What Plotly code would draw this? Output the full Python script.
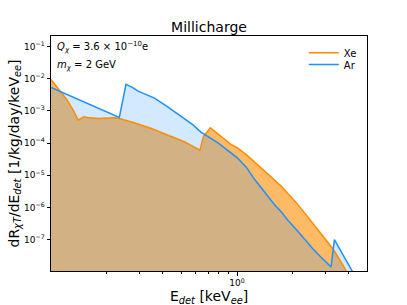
import plotly.graph_objects as go
import numpy as np

xe_x = [0.1, 0.1106, 0.122, 0.133, 0.140, 0.150, 0.157, 0.18, 0.2, 0.219, 0.233, 0.28, 0.344, 0.424, 0.521, 0.632,
        0.66, 0.719, 0.82, 0.93, 0.967, 1.0, 1.122, 1.239, 1.413, 1.585, 1.738, 1.875, 2.089, 2.291, 2.570,
        2.831, 3.090, 3.311, 3.589, 3.864, 4.266]
xe_y = [9.5e-3, 4.7e-3, 2.2e-3, 9.5e-4, 5.2e-4, 6.6e-4, 6.3e-4, 5.8e-4, 6.0e-4, 6.1e-4, 5.8e-4, 4.3e-4, 2.9e-4,
        1.8e-4, 1.1e-4, 6.0e-5, 1.6e-4, 3.0e-4, 1.6e-4, 9e-5, 8.1e-5, 7.2e-5, 4.37e-5, 2.63e-5, 1.38e-5,
        7.6e-6, 4.47e-6, 2.69e-6, 1.38e-6, 7.1e-7, 3.16e-7, 1.51e-7, 7.9e-8, 4.7e-8, 2.19e-8, 1.05e-8, 4e-9]

ar_x = [0.1, 0.233, 0.253, 0.274, 0.292, 0.317, 0.36, 0.424, 0.52, 0.58, 0.64, 0.794, 1.0, 1.122, 1.239, 1.413,
        1.585, 1.738, 1.875, 2.089, 2.291, 2.570, 2.831, 3.206, 3.34, 4.19, 4.57]
ar_y = [5.4e-3, 6.3e-4, 6.7e-3, 5.4e-3, 4.2e-3, 3.4e-3, 2.5e-3, 1.35e-3, 6e-4, 3.7e-4, 2.2e-4, 1e-4, 3.55e-5,
        1.78e-5, 7.6e-6, 2.8e-6, 1.26e-6, 7.1e-7, 4e-7, 2e-7, 1.05e-7, 5e-8, 2.8e-8, 1.4e-8, 1e-7, 1e-8, 4e-9]

y_tick_vals = [1e-1, 1e-2, 1e-3, 1e-4, 1e-5, 1e-6, 1e-7]
y_tick_text = ["10<sup>−1</sup>", "10<sup>−2</sup>", "10<sup>−3</sup>", "10<sup>−4</sup>",
               "10<sup>−5</sup>", "10<sup>−6</sup>", "10<sup>−7</sup>"]
x_tick_vals = [1]
x_tick_text = ["10<sup>0</sup>"]

ORANGE = "#FF8C00"
BLUE = "#1E90FF"
FONT = "DejaVu Sans"

fig = go.Figure()
base = 1e-14
fig.add_trace(go.Scatter(x=[0.05, 10], y=[base, base], mode="lines", line=dict(width=0),
                         showlegend=False, hoverinfo="skip"))
fig.add_trace(go.Scatter(x=xe_x, y=xe_y, mode="lines", line=dict(width=0), fill="tonexty",
                         fillcolor="rgba(255,140,0,0.6)", showlegend=False, hoverinfo="skip"))
fig.add_trace(go.Scatter(x=[0.05, 10], y=[base, base], mode="lines", line=dict(width=0),
                         showlegend=False, hoverinfo="skip"))
fig.add_trace(go.Scatter(x=ar_x, y=ar_y, mode="lines", line=dict(width=0), fill="tonexty",
                         fillcolor="rgba(30,144,255,0.2)", showlegend=False, hoverinfo="skip"))
fig.add_trace(go.Scatter(x=xe_x, y=xe_y, mode="lines", name="Xe", line=dict(color=ORANGE, width=1.5),
                         legend="legend"))
fig.add_trace(go.Scatter(x=ar_x, y=ar_y, mode="lines", name="Ar", line=dict(color=BLUE, width=1.5),
                         legend="legend2"))

leg_common = dict(xanchor="left", yanchor="top", bgcolor="rgba(0,0,0,0)",
                  font=dict(size=10, family=FONT), itemwidth=30, tracegroupgap=0, traceorder="normal")
fig.update_layout(
    width=407, height=305,
    margin=dict(l=51, r=40, t=36, b=34, pad=0, autoexpand=False),
    paper_bgcolor="white", plot_bgcolor="white",
    font=dict(family=FONT, color="black", size=10),
    title=dict(text="Millicharge", xref="paper", x=0.5, xanchor="center", y=0.91, yanchor="middle",
               font=dict(size=14, family=FONT)),
    legend=dict(x=0.80, y=0.99, **leg_common),
    legend2=dict(x=0.80, y=0.94, **leg_common),
    showlegend=True,
)
fig.update_xaxes(
    type="log", range=[-1, np.log10(5)], automargin=False,
    showgrid=False, zeroline=False,
    showline=True, linecolor="black", linewidth=1, mirror=True,
    ticks="outside", ticklen=3.5, tickwidth=0.8, tickcolor="black",
    tickvals=x_tick_vals, ticktext=x_tick_text, tickfont=dict(size=9),
    minor=dict(ticks="outside", ticklen=2, tickwidth=0.6, tickcolor="black",
               tickvals=[0.2, 0.3, 0.4, 0.5, 0.6, 0.7, 0.8, 0.9, 2, 3, 4]),
)
fig.update_yaxes(
    type="log", range=[-7.98, -0.667], automargin=False,
    showgrid=False, zeroline=False,
    showline=True, linecolor="black", linewidth=1, mirror=True,
    ticks="outside", ticklen=3.5, tickwidth=0.8, tickcolor="black",
    tickvals=y_tick_vals, ticktext=y_tick_text, tickfont=dict(size=9),
)
fig.add_annotation(xref="paper", yref="paper", x=0.5, y=-0.1, yshift=-2, xanchor="center", yanchor="middle",
                   text="E<sub><i>det</i></sub> [keV<sub><i>ee</i></sub>]", showarrow=False,
                   font=dict(size=14, family=FONT))
fig.add_annotation(xref="paper", yref="paper", x=0, xshift=-37, y=0.5, xanchor="center", yanchor="middle",
                   textangle=-90,
                   text="dR<sub><i>χT</i></sub>/dE<sub><i>det</i></sub> [1/kg/day/keV<sub><i>ee</i></sub>]",
                   showarrow=False, font=dict(size=14, family=FONT))
fig.add_annotation(xref="paper", yref="paper", x=0.0, xshift=4, y=0.955, xanchor="left", yanchor="middle",
                   text="<i>Q</i><sub><i>χ</i></sub> = 3.6 × 10<sup>−10</sup>e", showarrow=False,
                   font=dict(size=10, family=FONT))
fig.add_annotation(xref="paper", yref="paper", x=0.0, xshift=4, y=0.875, xanchor="left", yanchor="middle",
                   text="<i>m</i><sub><i>χ</i></sub> = 2 GeV", showarrow=False,
                   font=dict(size=10, family=FONT))

fig.write_html("out.html", config={"displayModeBar": False},
               post_script="document.body.style.margin='0';document.body.style.padding='0';")
